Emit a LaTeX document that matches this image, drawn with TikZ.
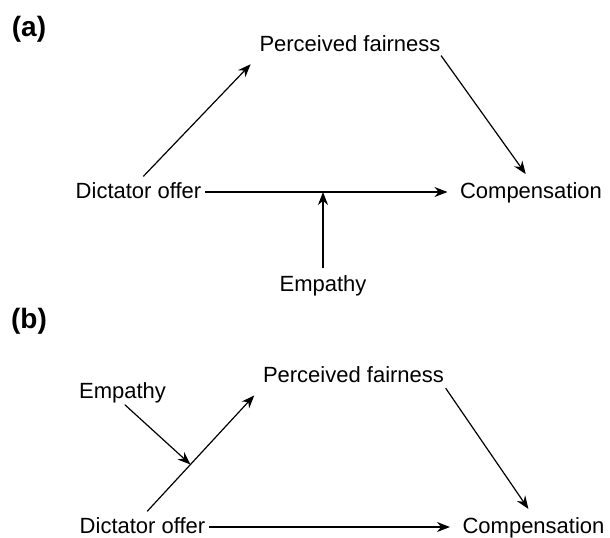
\documentclass[tikz,border=0pt]{standalone}
\usepackage{fontspec}
\setmainfont{Liberation Sans}
\usetikzlibrary{arrows.meta,positioning}

\begin{document}
\begin{tikzpicture}[->,>={Stealth[length=6.5pt,width=5pt]},x=0.5pt,y=-0.5pt,
                    line width=0.6pt,font=\fontsize{11}{13}\selectfont]
  \tikzstyle{every node}=[inner sep=0pt,text height=8pt,text depth=2pt]
  \tikzstyle{panel}=[font=\fontsize{14}{16}\selectfont\bfseries]

  \useasboundingbox (0,0) rectangle (610,537);

  % (a)
  \node[panel]  (labelA)  at (29,30)     {(a)};
  \node         (fairA)   at (350,45)    {Perceived fairness};
  \node         (offerA)  at (138.5,192) {Dictator offer};
  \node         (compA)   at (531,192)   {Compensation};
  \node         (empA)    at (323,285)   {Empathy};
  \coordinate   (modA)    at (empA |- offerA);

  \path (offerA.north) edge[shorten <=3.5pt,shorten >=6pt] (fairA.south west)
        (fairA.south east) edge[shorten >=4.5pt]           (compA.north)
        (offerA)      edge[shorten <=1.5pt,shorten >=6pt]  (compA)
        (empA)        edge[shorten <=3pt]                  (modA);

  % (b)
  \node[panel]  (labelB)  at (29,322)    {(b)};
  \node         (fairB)   at (353.5,376) {Perceived fairness};
  \node         (empB)    at (122.5,392) {Empathy};
  \node         (offerB)  at (142.5,527) {Dictator offer};
  \node         (compB)   at (533.5,527) {Compensation};
  \path (offerB.north) -- (fairB.south west) coordinate[pos=0.4] (modB);

  \path (offerB.north) edge[shorten <=3.5pt,shorten >=6pt] (fairB.south west)
        (fairB.south east) edge[shorten <=1pt,shorten >=4.5pt] (compB.north)
        (offerB)      edge[shorten <=1.5pt,shorten >=6pt]  (compB)
        (empB.south)  edge[shorten <=1.5pt]                (modB);
\end{tikzpicture}
\end{document}
